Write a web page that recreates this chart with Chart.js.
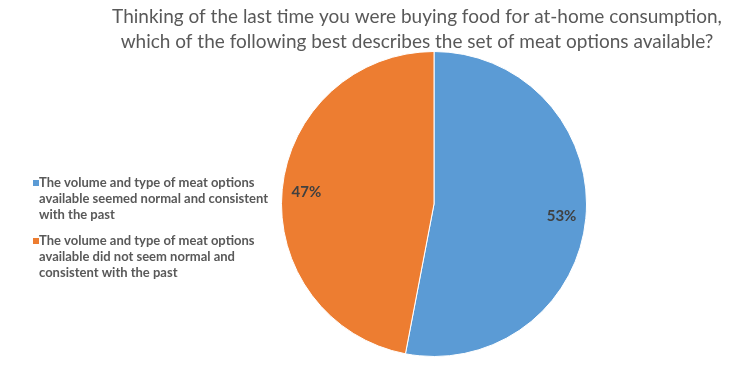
<!DOCTYPE html>
<html>
<head>
<meta charset="utf-8">
<script src="https://cdn.jsdelivr.net/npm/chart.js@4.4.1/dist/chart.umd.min.js"></script>
<style>
  html, body { margin: 0; padding: 0; background: #fff; }
  #wrap { width: 736px; height: 391px; position: relative; }
</style>
</head>
<body>
<div id="wrap"><canvas id="meatChart"></canvas></div>
<script>
const titleLines = [
  'Thinking of the last time you were buying food for at-home consumption,',
  'which of the following best describes the set of meat options available?'
];
const categories = [
  ['The volume and type of meat options', 'available seemed normal and consistent', 'with the past'],
  ['The volume and type of meat options', 'available did not seem normal and', 'consistent with the past']
];
const shares = [53, 47];
const colors = ['#5b9bd5', '#ed7d31'];

const ctx = document.getElementById('meatChart').getContext('2d');

// title drawn across the whole canvas (layout padding would squeeze the built-in one)
const titlePlugin = {
  id: 'bigTitle',
  afterDraw(chart) {
    const c = chart.ctx;
    c.save();
    c.fillStyle = '#595959';
    c.font = '19px Lato';
    c.textAlign = 'center';
    c.textBaseline = 'middle';
    titleLines.forEach((t, i) => c.fillText(t, 417, 17 + i * 25));
    c.restore();
  }
};

// legend on the left with wrapped lines
const sideLegend = {
  id: 'sideLegend',
  afterDraw(chart) {
    const c = chart.ctx;
    c.save();
    c.font = 'bold 13px Lato';
    c.textBaseline = 'middle';
    let y = 183;
    chart.data.labels.forEach((lines, i) => {
      c.fillStyle = colors[i];
      c.fillRect(33, y - 3, 6, 6);
      c.fillStyle = '#595959';
      lines.forEach((l, j) => c.fillText(l, 39, y + j * 16));
      y += 58;
    });
    c.restore();
  }
};

// percent labels inside the slices
const pctLabels = {
  id: 'pctLabels',
  afterDatasetsDraw(chart) {
    const c = chart.ctx;
    const meta = chart.getDatasetMeta(0);
    const total = shares.reduce((a, b) => a + b, 0);
    c.save();
    c.font = 'bold 15px Lato';
    c.fillStyle = '#404040';
    c.textAlign = 'center';
    c.textBaseline = 'middle';
    meta.data.forEach((arc, i) => {
      const mid = (arc.startAngle + arc.endAngle) / 2;
      const r = arc.outerRadius * 0.84;
      const pct = Math.round(shares[i] / total * 100) + '%';
      c.fillText(pct, arc.x + Math.cos(mid) * r, arc.y + Math.sin(mid) * r);
    });
    c.restore();
  }
};

new Chart(ctx, {
  type: 'pie',
  data: {
    labels: categories,
    datasets: [{
      data: shares,
      backgroundColor: colors,
      borderColor: '#ffffff',
      borderWidth: 1
    }]
  },
  options: {
    responsive: true,
    maintainAspectRatio: false,
    animation: false,
    layout: { padding: { left: 281, right: 149, top: 51, bottom: 34 } },
    plugins: {
      legend: { display: false },
      title: { display: false },
      tooltip: { enabled: false }
    }
  },
  plugins: [titlePlugin, sideLegend, pctLabels]
});
</script>
</body>
</html>
